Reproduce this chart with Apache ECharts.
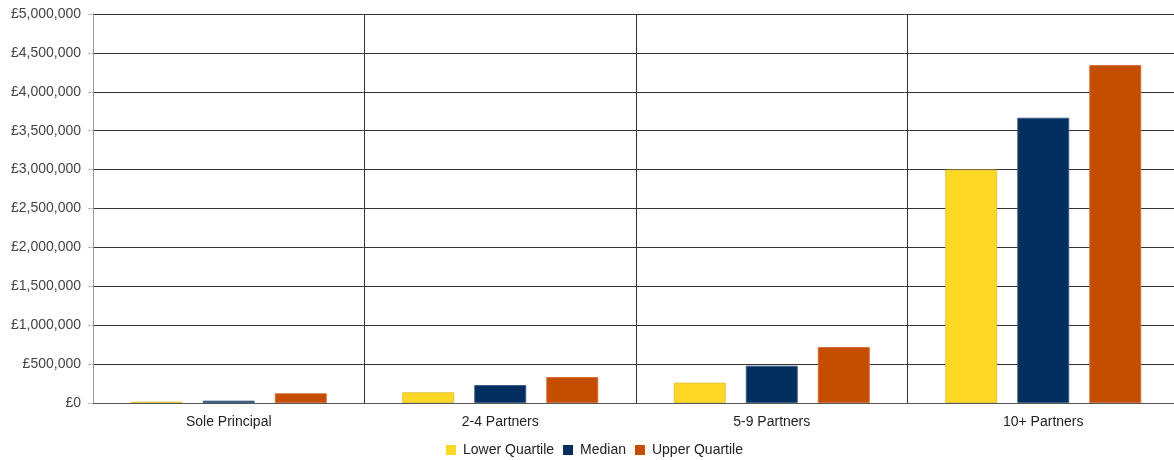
<!DOCTYPE html>
<html>
<head>
<meta charset="utf-8">
<script src="https://cdn.jsdelivr.net/npm/echarts@6/dist/echarts.min.js"></script>
<style>
  html, body { margin: 0; padding: 0; background: #ffffff; }
  #chart { width: 1174px; height: 460px; }
</style>
</head>
<body>
<div id="chart"></div>
<script>
// Practice size bands
const categories = ['Sole Principal', '2-4 Partners', '5-9 Partners', '10+ Partners'];

// Fee income quartiles (£)
const lowerQuartile = [17000, 137000, 262000, 3000000];
const median = [30000, 231000, 480000, 3667000];
const upperQuartile = [125000, 334000, 720000, 4344000];

// Value axis ticks
const yMin = 0;
const yMax = 5000000;
const yStep = 500000;

const seriesNames = ['Lower Quartile', 'Median', 'Upper Quartile'];
const seriesColors = ['#FDD925', '#012E5E', '#C44D00'];
const seriesBorders = ['#E3C441', '#3F5F86', '#D3713A'];
const seriesData = [lowerQuartile, median, upperQuartile];

const fmt = v => '£' + Number(v).toLocaleString('en-GB');

const chart = echarts.init(document.getElementById('chart'), null, { renderer: 'canvas' });

chart.setOption({
  animation: false,
  textStyle: { fontFamily: '"Liberation Sans", Arial, sans-serif' },
  // plot area runs slightly past the right edge of the canvas
  grid: { left: 93, width: 1086, top: 14, bottom: 57, containLabel: false, outerBoundsMode: 'none' },
  legend: {
    left: 441,
    top: 438,
    icon: 'rect',
    itemWidth: 10,
    itemHeight: 10,
    itemGap: 9,
    itemStyle: { borderWidth: 0 },
    textStyle: { fontSize: 14, color: '#222222', padding: [0, 0, 0, 2] },
    data: seriesNames
  },
  xAxis: {
    type: 'category',
    data: categories,
    boundaryGap: true,
    axisLine: { show: true, lineStyle: { color: '#555555', width: 1 } },
    axisTick: { show: false },
    axisLabel: { color: '#222222', fontSize: 14, margin: 12 },
    splitLine: { show: true, interval: 0, lineStyle: { color: '#333333', width: 1 } }
  },
  yAxis: {
    type: 'value',
    min: yMin,
    max: yMax,
    interval: yStep,
    axisLine: { show: true, lineStyle: { color: '#999999', width: 1 } },
    axisTick: { show: true, length: 5, lineStyle: { color: '#bbbbbb' } },
    axisLabel: { color: '#444444', fontSize: 14, margin: 12, formatter: fmt },
    splitLine: { show: true, lineStyle: { color: '#333333', width: 1 } }
  },
  series: seriesNames.map((name, i) => ({
    name: name,
    type: 'bar',
    data: seriesData[i],
    barWidth: 52,
    barGap: '38.5%',
    itemStyle: {
      color: seriesColors[i],
      borderColor: seriesBorders[i],
      borderWidth: 1
    }
  }))
});
</script>
</body>
</html>
